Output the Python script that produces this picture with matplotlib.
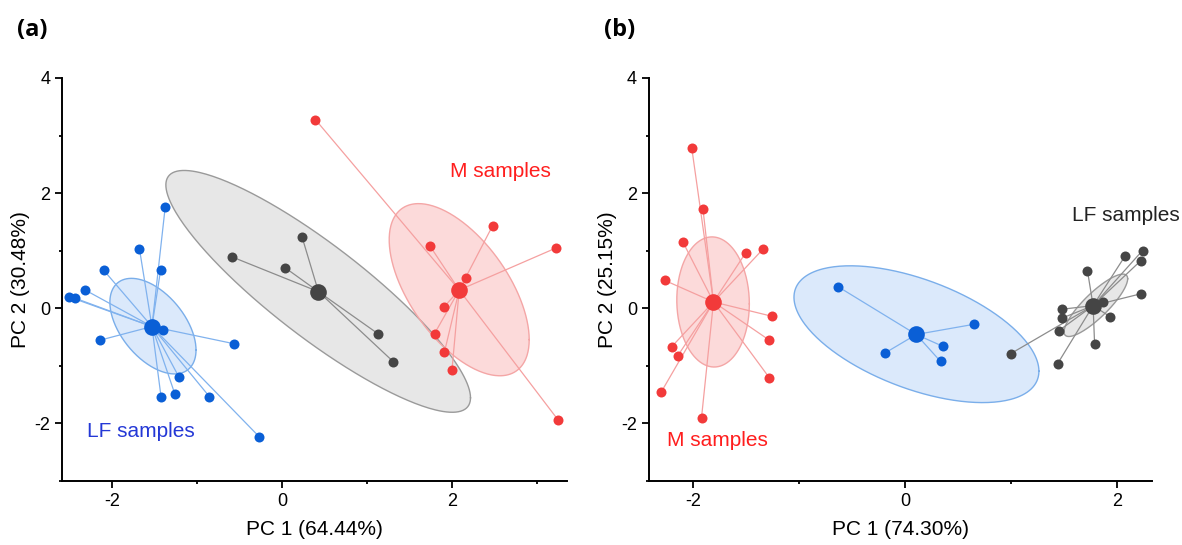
import numpy as np
import matplotlib
matplotlib.use("Agg")
import matplotlib.pyplot as plt

plt.rcParams['font.family'] = ['Liberation Sans', 'DejaVu Sans']
plt.rcParams['axes.unicode_minus'] = False

# ---- panel (a): PC1 64.44 %, PC2 30.48 %
a_lf_x = [-1.376, -1.679, -1.430, -2.098, -2.325, -2.503, -2.432, -2.143,
          -1.403, -0.561, -1.212, -1.425, -1.261, -0.855, -0.272]
a_lf_y = [1.754, 1.033, 0.664, 0.658, 0.323, 0.196, 0.173, -0.554,
          -0.381, -0.617, -1.200, -1.535, -1.494, -1.535, -2.227]
a_lf_center = (-1.532, -0.317)

a_mid_x = [-0.592, 0.236, 0.036, 1.131, 1.310]
a_mid_y = [0.894, 1.235, 0.704, -0.444, -0.929]
a_mid_center = (0.428, 0.289)

a_m_x = [0.392, 2.477, 1.742, 3.229, 2.165, 1.906, 1.795, 1.911, 2.000, 3.252]
a_m_y = [3.278, 1.431, 1.079, 1.050, 0.519, 0.023, -0.439, -0.762, -1.068, -1.945]
a_m_center = (2.085, 0.317)

# ellipse: (cx, cy, half width x, half height y, correlation)
a_lf_ell = (-1.52, -0.31, 0.507, 0.83, -0.50)
a_mid_ell = (0.425, 0.294, 1.793, 2.10, -0.88)
a_m_ell = (2.085, 0.323, 0.824, 1.495, -0.58)

# ---- panel (b): PC1 74.30 %, PC2 25.15 %
b_m_x = [-2.011, -1.905, -2.095, -1.503, -1.337, -2.265, -1.256, -1.280,
         -2.201, -2.145, -1.280, -2.300, -1.919]
b_m_y = [2.784, 1.718, 1.153, 0.963, 1.032, 0.484, -0.138, -0.553,
         -0.669, -0.830, -1.205, -1.458, -1.902]
b_m_center = (-1.806, 0.110)

b_mid_x = [-0.631, 0.653, 0.360, -0.190, 0.335]
b_mid_y = [0.375, -0.277, -0.663, -0.778, -0.922]
b_mid_center = (0.106, -0.455)

b_lf_x = [2.240, 2.078, 2.222, 1.721, 2.229, 1.870, 1.478, 1.478,
          1.933, 1.453, 1.788, 0.995, 1.439]
b_lf_y = [1.003, 0.916, 0.824, 0.651, 0.254, 0.110, -0.017, -0.173,
          -0.144, -0.386, -0.617, -0.790, -0.963]
b_lf_center = (1.774, 0.046)

b_m_ell = (-1.81, 0.11, 0.342, 1.13, -0.03)
b_mid_ell = (0.108, -0.45, 1.155, 1.188, -0.54)
b_lf_ell = (1.80, 0.052, 0.30, 0.542, 0.85)

RED = dict(pt='#f23a3a', line='#f5a0a0', face='#f99a9a', edge='#f4a6a6')
BLUE = dict(pt='#0a5fd6', line='#80b2ee', face='#9cc2f4', edge='#7aaeea')
GRAY = dict(pt='#454545', line='#8c8c8c', face='#bdbdbd', edge='#9a9a9a')


def draw_ellipse(ax, ell, c):
    cx, cy, rx, ry, rho = ell
    t = np.linspace(0, 2 * np.pi, 300)
    ex = cx + rx * np.cos(t)
    ey = cy + ry * (rho * np.cos(t) + np.sqrt(1 - rho ** 2) * np.sin(t))
    ax.fill(ex, ey, facecolor=c['face'], alpha=0.36, edgecolor='none', zorder=1)
    ax.plot(ex, ey, color=c['edge'], lw=1.0, zorder=1.5)


def draw_group(ax, xs, ys, center, c):
    cx, cy = center
    for x, y in zip(xs, ys):
        ax.plot([cx, x], [cy, y], color=c['line'], lw=0.9, zorder=2)
    ax.plot(xs, ys, 'o', ms=7.2, color=c['pt'], mec='none', zorder=3)
    ax.plot([cx], [cy], 'o', ms=12, color=c['pt'], mec='none', zorder=4)


def style_axes(ax, xlim, xminor, xlabel, ylabel):
    ax.set_xlim(*xlim)
    ax.set_ylim(-3, 4)
    ax.set_xticks([-2, 0, 2])
    ax.set_xticks(xminor, minor=True)
    ax.set_yticks([-2, 0, 2, 4])
    ax.set_yticks([-3, -1, 1, 3], minor=True)
    for s in ['top', 'right']:
        ax.spines[s].set_visible(False)
    for s in ['left', 'bottom']:
        ax.spines[s].set_linewidth(1.4)
    ax.tick_params(which='major', direction='out', length=5, width=1.3, labelsize=13)
    ax.tick_params(which='minor', direction='out', length=2.5, width=1.3)
    ax.set_xlabel(xlabel, fontsize=15, labelpad=7)
    ax.set_ylabel(ylabel, fontsize=15, labelpad=3)


fig = plt.figure(figsize=(11.82, 5.45), dpi=100)
ax_a = fig.add_axes([0.0525, 0.1174, 0.4272, 0.7395])
ax_b = fig.add_axes([0.549, 0.1174, 0.4254, 0.7395])

# (a)
draw_ellipse(ax_a, a_lf_ell, BLUE)
draw_ellipse(ax_a, a_mid_ell, GRAY)
draw_ellipse(ax_a, a_m_ell, RED)
draw_group(ax_a, a_lf_x, a_lf_y, a_lf_center, BLUE)
draw_group(ax_a, a_mid_x, a_mid_y, a_mid_center, GRAY)
draw_group(ax_a, a_m_x, a_m_y, a_m_center, RED)
ax_a.text(2.574, 2.377, 'M samples', color='#ff1e1e', fontsize=15,
          ha='center', va='center')
ax_a.text(-1.657, -2.147, 'LF samples', color='#2438d6', fontsize=15,
          ha='center', va='center')
style_axes(ax_a, (-2.59, 3.354), [-1, 1, 3], 'PC 1 (64.44%)', 'PC 2 (30.48%)')

# (b)
draw_ellipse(ax_b, b_m_ell, RED)
draw_ellipse(ax_b, b_mid_ell, BLUE)
draw_ellipse(ax_b, b_lf_ell, GRAY)
draw_group(ax_b, b_m_x, b_m_y, b_m_center, RED)
draw_group(ax_b, b_mid_x, b_mid_y, b_mid_center, BLUE)
draw_group(ax_b, b_lf_x, b_lf_y, b_lf_center, GRAY)
ax_b.text(-2.247, -2.30, 'M samples', color='#ff1e1e', fontsize=15,
          ha='left', va='center')
ax_b.text(1.575, 1.61, 'LF samples', color='#222222', fontsize=15,
          ha='left', va='center', clip_on=False)
style_axes(ax_b, (-2.415, 2.327), [-1, 1], 'PC 1 (74.30%)', 'PC 2 (25.15%)')

fig.text(0.027, 0.945, '(a)', fontsize=17, fontweight='bold', family='Open Sans',
         ha='center', va='center')
fig.text(0.5245, 0.945, '(b)', fontsize=17, fontweight='bold', family='Open Sans',
         ha='center', va='center')

fig.savefig('out.png', dpi=100)
